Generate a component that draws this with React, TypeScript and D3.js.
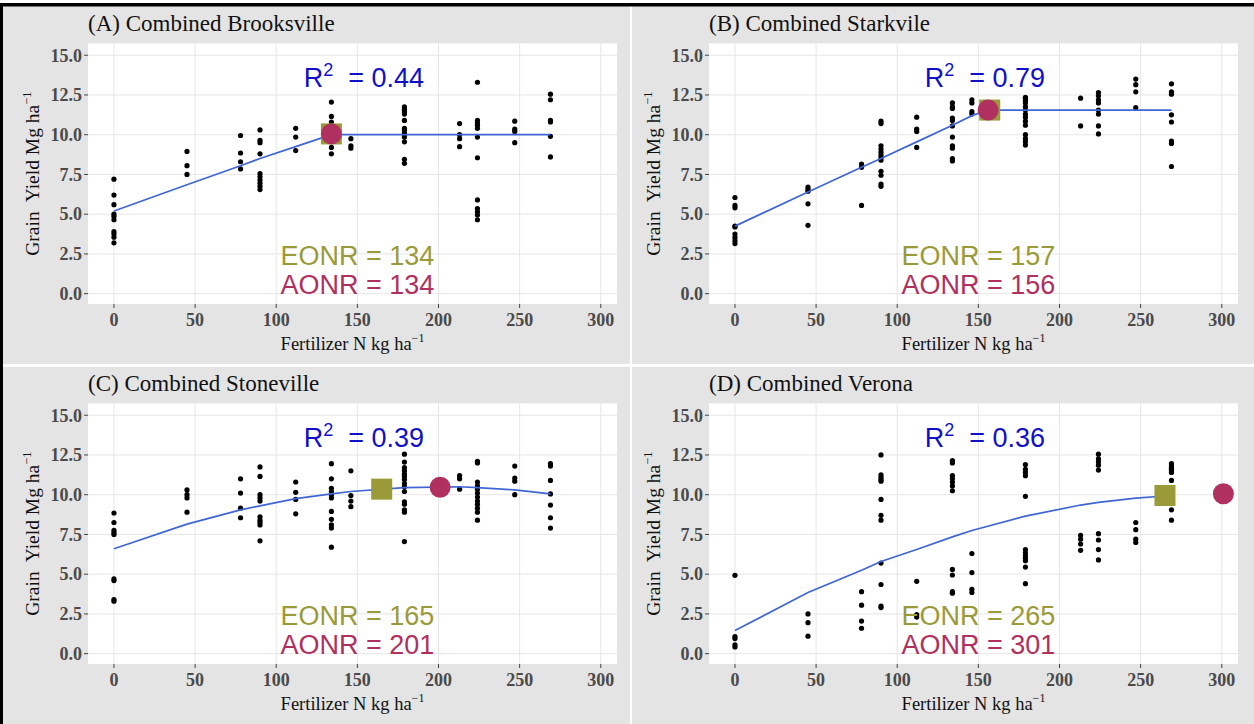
import * as d3 from "d3";

type Column = [number, number[]];
type Pt = [number, number];

// panel titles and annotation text
const titles = [
  "(A) Combined Brooksville",
  "(B) Combined Starkvile",
  "(C) Combined Stoneville",
  "(D) Combined Verona",
];
const r2Labels = ["0.44", "0.79", "0.39", "0.36"];
const eonrLabels = ["134", "157", "165", "265"];
const aonrLabels = ["134", "156", "201", "301"];

// grain yield observations, grouped by N rate
const brooksvilleYield: Column[] = [
  [0, [7.2, 6.2, 5.6, 5.0, 4.85, 4.65, 3.9, 3.75, 3.55, 3.2]],
  [45, [8.95, 8.05, 7.5]],
  [78, [9.95, 8.85, 8.3, 7.85]],
  [90, [10.3, 9.65, 9.5, 8.8, 7.55, 7.35, 7.15, 6.95, 6.75, 6.55]],
  [112, [10.4, 9.85, 9.0]],
  [134, [12.05, 11.15, 10.8, 10.4, 9.6, 9.2, 8.8]],
  [146, [9.75, 9.3, 9.15]],
  [179, [11.75, 11.6, 11.45, 11.3, 10.9, 10.4, 10.3, 10.1, 10.0, 9.85, 9.55, 8.45, 8.2]],
  [213, [10.7, 10.0, 9.75, 9.25]],
  [224, [13.3, 10.9, 10.75, 10.6, 10.4, 9.85, 8.55, 5.9, 5.35, 5.15, 4.95, 4.65]],
  [247, [10.85, 10.35, 10.2, 9.5]],
  [269, [12.55, 12.2, 10.9, 10.8, 9.9, 8.6]],
];

const starkvilleYield: Column[] = [
  [0, [6.05, 5.55, 5.4, 4.25, 4.2, 3.75, 3.55, 3.35, 3.15]],
  [45, [6.7, 6.55, 6.45, 5.65, 4.3]],
  [78, [8.15, 7.95, 5.55]],
  [90, [10.85, 10.7, 9.3, 9.1, 8.9, 8.7, 8.55, 8.4, 7.7, 7.45, 6.9, 6.75]],
  [112, [11.1, 10.35, 10.2, 9.2]],
  [134, [12.0, 11.75, 11.65, 11.05, 10.9, 10.55, 9.85, 9.3, 9.15, 8.5, 8.35]],
  [146, [12.2, 12.0, 11.45, 11.3]],
  [179, [12.35, 12.3, 12.15, 12.0, 11.75, 11.55, 11.3, 11.1, 10.85, 10.6, 10.0, 9.75, 9.55, 9.35]],
  [213, [12.3, 10.55]],
  [224, [12.65, 12.45, 12.2, 12.0, 11.55, 11.3, 10.55, 10.05]],
  [247, [13.5, 13.15, 12.7, 11.7]],
  [269, [13.2, 12.7, 12.55, 11.25, 10.8, 9.6, 9.45, 8.0]],
];

const stonevilleYield: Column[] = [
  [0, [8.85, 8.25, 7.75, 7.6, 7.5, 4.7, 4.6, 3.4, 3.3]],
  [45, [10.3, 10.0, 9.8, 8.9]],
  [78, [11.0, 10.1, 9.15, 8.55]],
  [90, [11.75, 11.15, 10.0, 9.8, 9.6, 8.6, 8.4, 8.25, 8.1, 7.1]],
  [112, [10.8, 10.15, 9.7, 8.8]],
  [134, [11.95, 11.0, 10.4, 10.2, 10.0, 9.8, 8.95, 8.45, 8.1, 7.9, 6.7]],
  [146, [11.5, 9.95, 9.6, 9.25]],
  [179, [12.55, 12.05, 11.7, 11.5, 11.3, 11.15, 10.95, 10.7, 10.5, 10.2, 9.55, 9.4, 9.05, 8.9, 7.05]],
  [213, [11.2, 11.0, 10.35]],
  [224, [12.1, 12.0, 10.8, 10.55, 10.35, 10.1, 9.85, 9.6, 9.4, 9.15, 8.9, 8.4]],
  [247, [11.8, 11.05, 10.85, 10.0]],
  [269, [11.95, 11.8, 10.9, 10.05, 9.35, 8.55, 7.9]],
];

const veronaYield: Column[] = [
  [0, [4.93, 1.08, 0.95, 0.55, 0.42]],
  [45, [2.5, 1.95, 1.1]],
  [78, [3.9, 3.05, 2.05, 1.6]],
  [90, [12.5, 11.25, 11.1, 10.95, 10.85, 9.7, 8.7, 8.4, 5.7, 4.35, 3.0, 2.9]],
  [112, [4.55, 2.45, 2.3]],
  [134, [12.15, 12.0, 11.2, 11.0, 10.8, 10.55, 10.25, 5.3, 4.95, 3.9, 3.8]],
  [146, [6.3, 5.1, 4.05, 3.85]],
  [179, [11.9, 11.6, 11.4, 11.2, 9.9, 6.55, 6.35, 6.15, 6.0, 5.85, 5.45, 4.4]],
  [213, [7.45, 7.2, 6.9, 6.5]],
  [224, [12.55, 12.25, 12.05, 11.85, 11.55, 7.55, 7.15, 6.55, 5.9]],
  [247, [8.25, 7.8, 7.2, 7.0]],
  [269, [11.95, 11.8, 11.7, 11.6, 11.5, 11.4, 10.9, 9.05, 8.4]],
];

// fitted response curves (predicted yield at each N rate)
const brooksvilleFit: Pt[] = [[0, 5.2], [45, 6.85], [78, 8.05], [90, 8.5], [112, 9.25], [134, 10.0], [269, 10.0]];
const starkvilleFit: Pt[] = [[0, 4.25], [45, 6.4], [78, 7.95], [90, 8.5], [112, 9.55], [134, 10.6], [146, 11.2], [156, 11.55], [269, 11.55]];
const stonevilleFit: Pt[] = [[0, 6.6], [45, 8.15], [78, 9.05], [90, 9.3], [112, 9.75], [134, 10.05], [146, 10.2], [179, 10.45], [213, 10.5], [224, 10.45], [247, 10.3], [269, 10.05]];
const veronaFit: Pt[] = [[0, 1.45], [45, 3.85], [78, 5.25], [90, 5.8], [112, 6.55], [134, 7.35], [146, 7.75], [179, 8.65], [213, 9.35], [224, 9.52], [247, 9.78], [265, 9.92]];

// economic (square) and agronomic (circle) optimum N rates
const eonrPoints: Pt[] = [[134, 10.05], [157, 11.55], [165, 10.35], [265, 9.95]];
const aonrPoints: Pt[] = [[134, 10.05], [156, 11.55], [201, 10.47], [301, 10.06]];

const xTicks = [0, 50, 100, 150, 200, 250, 300];
const yTicks = [0, 2.5, 5, 7.5, 10, 12.5, 15];

const yields = [brooksvilleYield, starkvilleYield, stonevilleYield, veronaYield];
const fits = [brooksvilleFit, starkvilleFit, stonevilleFit, veronaFit];

const SERIF = "'Liberation Serif', 'Times New Roman', Times, serif";
const SANS = "'Liberation Sans', Arial, Helvetica, sans-serif";
const OLIVE = "#9a9a38";
const MAROON = "#b03060";

const offsets = [
  { ox: 0, oy: 0 },
  { ox: 621, oy: 0 },
  { ox: 0, oy: 360 },
  { ox: 621, oy: 360 },
];

function Panel({ idx }: { idx: number }) {
  const { ox, oy } = offsets[idx];
  const left = 88 + ox;
  const right = 617 + ox;
  const top = 43.3 + oy;
  const bottom = 304 + oy;

  const x = d3.scaleLinear().domain([-16, 310]).range([left, right]);
  const y = d3.scaleLinear().domain([-0.65, 15.75]).range([bottom, top]);

  const line = d3
    .line<Pt>()
    .x((d) => x(d[0]))
    .y((d) => y(d[1]));

  const pts: Pt[] = [];
  yields[idx].forEach(([n, ys]) => ys.forEach((v) => pts.push([n, v])));

  const eo = eonrPoints[idx];
  const ao = aonrPoints[idx];
  const cx = (left + right) / 2;
  const cy = (top + bottom) / 2;

  return (
    <g>
      <rect x={left} y={top} width={right - left} height={bottom - top} fill="#ffffff" />
      {xTicks.map((t) => (
        <line key={"gx" + t} x1={x(t)} x2={x(t)} y1={top} y2={bottom} stroke="#e6e6e6" strokeWidth={1} />
      ))}
      {yTicks.map((t) => (
        <line key={"gy" + t} x1={left} x2={right} y1={y(t)} y2={y(t)} stroke="#e6e6e6" strokeWidth={1} />
      ))}

      {/* axes ticks and labels */}
      {xTicks.map((t) => (
        <g key={"tx" + t}>
          <line x1={x(t)} x2={x(t)} y1={bottom} y2={bottom + 4} stroke="#444" strokeWidth={1} />
          <text x={x(t)} y={bottom + 22} textAnchor="middle" fontFamily={SERIF} fontWeight="bold" fontSize={18} fill="#4a4a4a">
            {t}
          </text>
        </g>
      ))}
      {yTicks.map((t) => (
        <g key={"ty" + t}>
          <line x1={left - 4} x2={left} y1={y(t)} y2={y(t)} stroke="#444" strokeWidth={1} />
          <text x={left - 6} y={y(t)} dy="0.35em" textAnchor="end" fontFamily={SERIF} fontWeight="bold" fontSize={18} fill="#4a4a4a">
            {d3.format(".1f")(t)}
          </text>
        </g>
      ))}

      {/* data */}
      {pts.map((p, i) => (
        <circle key={i} cx={x(p[0])} cy={y(p[1])} r={2.6} fill="#000" />
      ))}
      <path d={line(fits[idx]) || ""} fill="none" stroke="#3f66d4" strokeWidth={1.7} />
      <rect x={x(eo[0]) - 10.5} y={y(eo[1]) - 10.5} width={21} height={21} fill={OLIVE} />
      <circle cx={x(ao[0])} cy={y(ao[1])} r={10.5} fill={MAROON} />

      {/* annotations */}
      <text x={x(154)} y={y(13.0)} textAnchor="middle" fontFamily={SANS} fontSize={27} fill="#1010c8">
        R<tspan fontSize={18} dy={-11}>2</tspan>
        <tspan dy={11}>{"\u00a0\u00a0= " + r2Labels[idx]}</tspan>
      </text>
      <text x={x(150)} y={y(1.8)} textAnchor="middle" fontFamily={SANS} fontSize={27} fill={OLIVE}>
        {"EONR = " + eonrLabels[idx]}
      </text>
      <text x={x(150)} y={y(0.0)} textAnchor="middle" fontFamily={SANS} fontSize={27} fill={MAROON}>
        {"AONR = " + aonrLabels[idx]}
      </text>

      {/* titles */}
      <text x={left} y={oy + 31} fontFamily={SERIF} fontSize={23} fill="#111">
        {titles[idx]}
      </text>
      <text x={cx} y={oy + 350} textAnchor="middle" fontFamily={SERIF} fontSize={18.5} fill="#111">
        Fertilizer N kg ha<tspan fontSize={12} dy={-8}>{"\u22121"}</tspan>
      </text>
      <text
        transform={`translate(${ox + 39},${cy}) rotate(-90)`}
        textAnchor="middle"
        fontFamily={SERIF}
        fontSize={19.5}
        fill="#111"
      >
        {"Grain\u00a0 Yield Mg ha"}
        <tspan fontSize={12.5} dy={-8}>{"\u22121"}</tspan>
      </text>
    </g>
  );
}

export default function App() {
  return (
    <div>
      <style>{"body{margin:0;}"}</style>
      <svg width={1254} height={724} style={{ display: "block" }}>
        <rect x={0} y={0} width={1254} height={724} fill="#ffffff" />
        <rect x={3} y={6} width={627} height={358} fill="#e4e4e4" />
        <rect x={632} y={6} width={622} height={358} fill="#e4e4e4" />
        <rect x={3} y={367} width={627} height={357} fill="#e4e4e4" />
        <rect x={632} y={367} width={622} height={357} fill="#e4e4e4" />
        <rect x={0} y={3} width={1254} height={3.5} fill="#000" />
        <rect x={0} y={3} width={3} height={721} fill="#000" />
        {offsets.map((_, i) => (
          <Panel key={i} idx={i} />
        ))}
      </svg>
    </div>
  );
}
